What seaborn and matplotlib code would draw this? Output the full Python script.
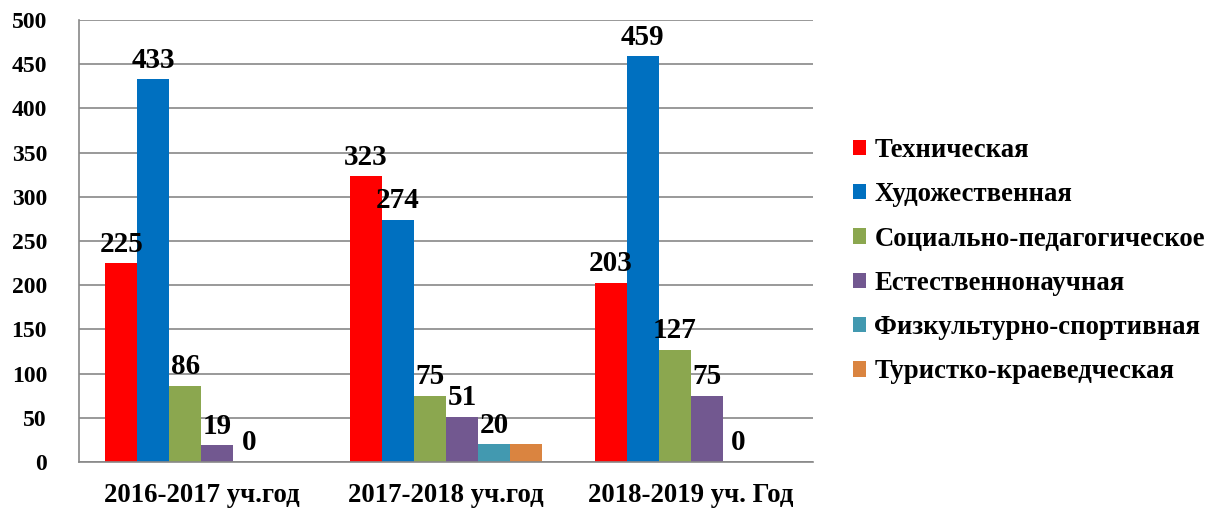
import matplotlib
matplotlib.use("Agg")
import matplotlib.pyplot as plt
import seaborn as sns
import pandas as pd
import numpy as np

years = ["2016-2017 уч.год", "2017-2018 уч.год", "2018-2019 уч. Год"]
series = ["Техническая", "Художественная", "Социально-педагогическое",
          "Естественнонаучная", "Физкультурно-спортивная", "Туристко-краеведческая"]
tech = [225, 323, 203]
art = [433, 274, 459]
soc = [86, 75, 127]
nat = [19, 51, 75]
sport = [0, 20, 0]
tour = [np.nan, 20, np.nan]
# data labels shown on the chart (per series, per present bar)
labels_shown = [["225", "323", "203"], ["433", "274", "459"], ["86", "75", "127"],
                ["19", "51", "75"], ["0", "20", "0"], [""]]
colors = ["#FF0000", "#0070C0", "#8BA74F", "#725890", "#4299B0", "#DA8440"]

rows = []
for name, vals in zip(series, [tech, art, soc, nat, sport, tour]):
    for y, v in zip(years, vals):
        rows.append({"year": y, "series": name, "value": v})
df = pd.DataFrame(rows).dropna()

sns.set_style("white")
plt.rcParams["font.family"] = ["Liberation Serif", "DejaVu Serif"]
plt.rcParams["font.weight"] = "bold"
plt.rcParams["text.color"] = "black"
plt.rcParams["xtick.color"] = "black"
plt.rcParams["ytick.color"] = "black"

fig = plt.figure(figsize=(12.07, 5.11), dpi=100)
ax = fig.add_axes([79/1207, 1-462/511, (813-79)/1207, (462-20)/511])

sns.barplot(data=df, x="year", y="value", hue="series", order=years,
            hue_order=series, palette=colors, width=0.784, gap=0,
            saturation=1, ax=ax, legend=False, errorbar=None, linewidth=0)

for cont, labs in zip(ax.containers, labels_shown):
    ax.bar_label(cont, labels=labs, padding=4, fontsize=21, fontweight="bold",
                 color="black")

ax.set_ylim(0, 500)
ax.set_xlim(-0.5, 2.5)
ax.set_yticks(np.arange(0, 501, 50))
ax.set_xlabel("")
ax.set_ylabel("")
ax.yaxis.grid(True, color="#888888", linewidth=1.2)
ax.set_axisbelow(True)
for s in ["top", "right"]:
    ax.spines[s].set_visible(False)
for s in ["left", "bottom"]:
    ax.spines[s].set_color("#888888")
    ax.spines[s].set_linewidth(1.2)
ax.tick_params(axis="y", length=7, color="#888888", labelcolor="black", width=1.2,
               labelsize=17, pad=16)
ax.tick_params(axis="x", which="major", length=0, labelsize=19.3, labelcolor="black", pad=15)
ax.set_xticks([-0.5, 0.5, 1.5, 2.5], minor=True)
ax.tick_params(axis="x", which="minor", length=7, color="#888888", width=1.2)
for t in ax.get_xticklabels() + ax.get_yticklabels():
    t.set_fontweight("bold")

from matplotlib.patches import Patch
handles = [Patch(facecolor=c, edgecolor="none") for c in colors]
fig.legend(handles, series, loc="upper left", bbox_to_anchor=(853/1207, 1-138/511),
           frameon=False, prop={"size": 19.3, "weight": "bold"},
           handlelength=0.5, handleheight=0.5, handletextpad=0.3,
           labelspacing=0.72, borderaxespad=0, borderpad=0)

fig.savefig("out.png", dpi=100)
